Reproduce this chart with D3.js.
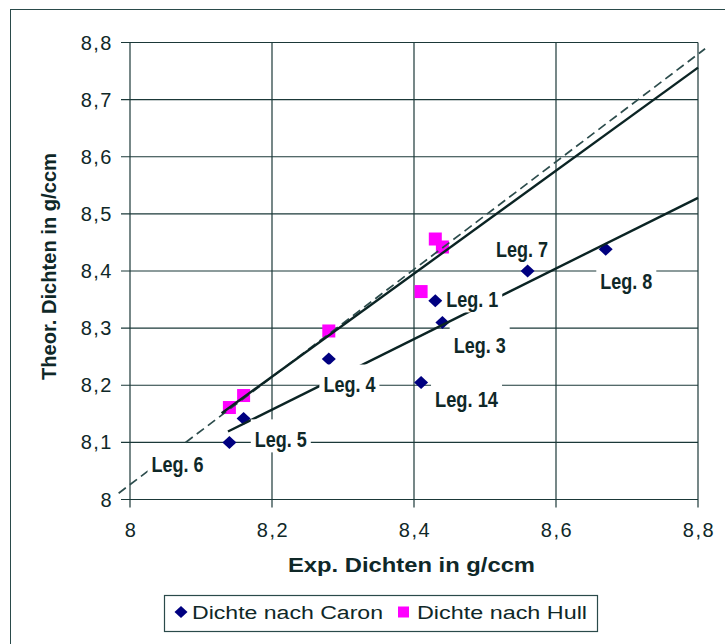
<!DOCTYPE html>
<html>
<head>
<meta charset="utf-8">
<script src="https://d3js.org/d3.v7.min.js"></script>
<style>
  body { margin: 0; background: #fff; }
  svg { display: block; }
  text { font-family: Arial, "Liberation Sans", sans-serif; fill: #0f2828; }
</style>
</head>
<body>
<svg id="chart" width="725" height="644"></svg>
<script>
// values
const xTicks = [8, 8.2, 8.4, 8.6, 8.8];
const xTickLabels = ["8", "8,2", "8,4", "8,6", "8,8"];
const yTicks = [8, 8.1, 8.2, 8.3, 8.4, 8.5, 8.6, 8.7, 8.8];
const yTickLabels = ["8", "8,1", "8,2", "8,3", "8,4", "8,5", "8,6", "8,7", "8,8"];

const caronX = [8.14, 8.16, 8.28, 8.43, 8.44, 8.41, 8.56, 8.67];
const caronY = [8.10, 8.142, 8.246, 8.348, 8.31, 8.205, 8.40, 8.438];
const hullX = [8.14, 8.16, 8.28, 8.41, 8.43, 8.44];
const hullY = [8.161, 8.182, 8.295, 8.364, 8.456, 8.442];

// trend lines (endpoints) and the dashed reference line
const fitHullX = [8.129, 8.80], fitHullY = [8.151, 8.756];
const fitCaronX = [8.138, 8.80], fitCaronY = [8.119, 8.528];
const diagX = [7.984, 8.81], diagY = [8.011, 8.789];

// annotation labels and where they sit (data space)
const labelText = ["Leg. 7", "Leg. 8", "Leg. 1", "Leg. 3", "Leg. 14", "Leg. 4", "Leg. 5", "Leg. 6"];
const labelX = [8.552, 8.699, 8.482, 8.4925, 8.474, 8.309, 8.2124, 8.067];
const labelY = [8.439, 8.384, 8.352, 8.272, 8.176, 8.203, 8.107, 8.063];

const seriesNames = ["Dichte nach Caron", "Dichte nach Hull"];

const svg = d3.select("#chart");
const L = 130, R = 698, T = 42.5, B = 499.5;
const x = d3.scaleLinear().domain([8, 8.8]).range([L, R]);
const y = d3.scaleLinear().domain([8, 8.8]).range([B, T]);
const dark = "#1b3838";

// outer chart border
svg.append("rect").attr("x", 10.5).attr("y", 9.5).attr("width", 730).attr("height", 650)
   .attr("fill", "#fff").attr("stroke", "#2a4a4a").attr("stroke-width", 1);

// grid
let grid = svg.append("g");
grid.selectAll(".gx").data(xTicks).enter().append("line")
    .attr("x1", d => x(d)).attr("x2", d => x(d)).attr("y1", T).attr("y2", B + 8)
    .attr("stroke", dark).attr("stroke-width", 1.2);
grid.selectAll(".gy").data(yTicks).enter().append("line")
    .attr("y1", d => y(d)).attr("y2", d => y(d)).attr("x1", L - 9).attr("x2", R)
    .attr("stroke", dark).attr("stroke-width", 1.2);

// tick labels
svg.append("g").selectAll("text").data(yTicks).enter().append("text")
   .attr("x", 113).attr("y", d => y(d) + 7)
   .attr("text-anchor", "end").attr("font-size", 20).attr("letter-spacing", 1.5)
   .attr("fill", "#1d4040")
   .text((d, i) => yTickLabels[i]);
svg.append("g").selectAll("text").data(xTicks).enter().append("text")
   .attr("x", d => x(d) + 1).attr("y", 537)
   .attr("text-anchor", "middle").attr("font-size", 20).attr("letter-spacing", 1.5)
   .attr("fill", "#1d4040")
   .text((d, i) => xTickLabels[i]);

// axis titles
svg.append("text").attr("x", 288).attr("y", 572)
   .attr("font-size", 19.5).attr("font-weight", "bold")
   .attr("textLength", 247).attr("lengthAdjust", "spacingAndGlyphs")
   .text("Exp. Dichten in g/ccm");
svg.append("text").attr("transform", "translate(56,380) rotate(-90)")
   .attr("font-size", 19.5).attr("font-weight", "bold")
   .attr("textLength", 227).attr("lengthAdjust", "spacingAndGlyphs")
   .text("Theor. Dichten in g/ccm");

// markers
const diamond = "M0,-6.5L7,0L0,6.5L-7,0Z";
svg.append("g").selectAll("rect").data(hullX).enter().append("rect")
   .attr("x", (d, i) => x(d) - 6.5).attr("y", (d, i) => y(hullY[i]) - 6.5)
   .attr("width", 13).attr("height", 13).attr("fill", "#ff00ff");
svg.append("g").selectAll("path").data(caronX).enter().append("path")
   .attr("d", diamond)
   .attr("transform", (d, i) => `translate(${x(d)},${y(caronY[i])})`)
   .attr("fill", "#000080");

// lines
svg.append("line")
   .attr("x1", x(diagX[0])).attr("y1", y(diagY[0])).attr("x2", x(diagX[1])).attr("y2", y(diagY[1]))
   .attr("stroke", "#2c4c4c").attr("stroke-width", 1.7).attr("stroke-dasharray", "9,5");
[[fitHullX, fitHullY], [fitCaronX, fitCaronY]].forEach(f => {
  svg.append("line")
     .attr("x1", x(f[0][0])).attr("y1", y(f[1][0])).attr("x2", x(f[0][1])).attr("y2", y(f[1][1]))
     .attr("stroke", "#0b2424").attr("stroke-width", 2.4);
});

// annotation labels with white boxes
let labels = svg.append("g").selectAll("g").data(labelText).enter().append("g")
   .attr("transform", (d, i) => `translate(${x(labelX[i])},${y(labelY[i])})`);
labels.append("rect")
   .attr("x", d => -(d.length > 6 ? 63 : 52) / 2 - 4).attr("y", -19)
   .attr("width", d => (d.length > 6 ? 63 : 52) + 8).attr("height", 33)
   .attr("fill", "#fff");
labels.append("text")
   .attr("x", d => -(d.length > 6 ? 63 : 52) / 2).attr("y", 8.5)
   .attr("font-family", "'Liberation Sans Narrow', 'Arial Narrow', Arial, sans-serif")
   .attr("font-weight", "bold").attr("font-size", 22)
   .attr("textLength", d => d.length > 6 ? 63 : 52).attr("lengthAdjust", "spacingAndGlyphs")
   .text(d => d);

// legend
let lg = svg.append("g");
lg.append("rect").attr("x", 164.5).attr("y", 595.5).attr("width", 433).attr("height", 36)
  .attr("fill", "#fff").attr("stroke", "#2a4a4a").attr("stroke-width", 1.2);
lg.append("path").attr("d", "M0,-6L6.5,0L0,6L-6.5,0Z").attr("transform", "translate(181,612)")
  .attr("fill", "#000080");
lg.append("rect").attr("x", 398).attr("y", 606.5).attr("width", 11).attr("height", 11).attr("fill", "#ff00ff");
lg.append("text").attr("x", 192).attr("y", 619).attr("font-size", 18)
  .attr("textLength", 191).attr("lengthAdjust", "spacingAndGlyphs").text(seriesNames[0]);
lg.append("text").attr("x", 417).attr("y", 619).attr("font-size", 18)
  .attr("textLength", 170).attr("lengthAdjust", "spacingAndGlyphs").text(seriesNames[1]);
</script>
</body>
</html>
